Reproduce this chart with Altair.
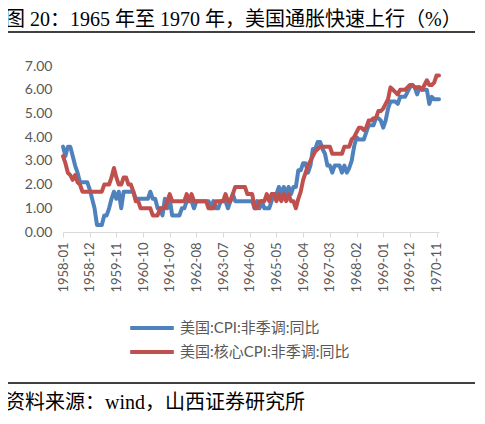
import pandas as pd
import altair as alt

title = "图 20：1965 年至 1970 年，美国通胀快速上行（%）"
source = "资料来源：wind，山西证券研究所"
s_cpi = "美国:CPI:非季调:同比"
s_core = "美国:核心CPI:非季调:同比"

months = pd.period_range("1958-01", "1970-12", freq="M").strftime("%Y-%m").tolist()

# CPI yoy (1958-01 .. 1970-12)
cpi = [
    3.6, 3.2, 3.6, 3.6, 3.2, 2.8, 2.5, 2.1, 2.1, 2.1, 2.1, 1.8,
    1.4, 1.0, 0.3, 0.3, 0.3, 0.7, 0.7, 1.0, 1.4, 1.7, 1.4, 1.7,
    1.0, 1.7, 1.7, 1.7, 1.7, 1.7, 1.4, 1.4, 1.4, 1.4, 1.4, 1.4,
    1.7, 1.4, 1.4, 1.0, 1.0, 0.7, 1.4, 1.0, 1.4, 0.7, 0.7, 0.7,
    0.7, 1.0, 1.0, 1.3, 1.3, 1.3, 1.0, 1.3, 1.3, 1.3, 1.3, 1.3,
    1.3, 1.0, 1.3, 1.0, 1.0, 1.3, 1.3, 1.3, 1.0, 1.3, 1.6, 1.3,
    1.3, 1.3, 1.3, 1.3, 1.3, 1.3, 1.3, 1.0, 1.3, 1.0, 1.3, 1.0,
    1.0, 1.0, 1.3, 1.6, 1.6, 1.9, 1.6, 1.9, 1.6, 1.9, 1.6, 1.9,
    1.9, 2.6, 2.6, 2.9, 2.9, 2.5, 2.8, 3.5, 3.5, 3.8, 3.8, 3.5,
    3.3, 2.8, 2.8, 2.5, 2.8, 2.8, 2.8, 2.5, 2.8, 2.5, 2.7, 3.0,
    3.6, 4.0, 3.9, 3.9, 3.9, 4.2, 4.5, 4.5, 4.5, 4.8, 4.8, 4.7,
    4.4, 4.7, 5.2, 5.5, 5.5, 5.5, 5.4, 5.7, 5.7, 5.7, 5.9, 6.1,
    6.2, 6.1, 5.8, 6.1, 6.0, 6.0, 6.0, 5.4, 5.7, 5.6, 5.6, 5.6,
]

# core CPI yoy
core = [
    3.2, 2.9, 2.5, 2.4, 2.2, 2.4, 2.1, 2.0, 1.7, 1.7, 1.7, 1.7,
    1.7, 1.7, 1.7, 1.7, 1.7, 2.0, 2.0, 2.0, 2.3, 2.7, 2.3, 2.0,
    2.0, 2.3, 2.3, 2.0, 2.0, 1.7, 1.3, 1.3, 1.0, 1.0, 1.0, 1.0,
    1.0, 0.7, 0.7, 0.7, 1.0, 1.0, 1.0, 1.3, 1.6, 1.3, 1.3, 1.3,
    1.3, 1.3, 1.3, 1.6, 1.3, 1.6, 1.3, 1.3, 1.3, 1.3, 1.3, 1.3,
    1.0, 1.0, 1.0, 1.3, 1.3, 1.3, 1.3, 1.6, 1.3, 1.3, 1.6, 1.9,
    1.9, 1.9, 1.9, 1.9, 1.6, 1.6, 1.6, 1.0, 1.0, 1.3, 1.3, 1.3,
    1.6, 1.3, 1.6, 1.6, 1.3, 1.6, 1.3, 1.6, 1.3, 1.6, 1.3, 1.3,
    1.0, 1.4, 1.7, 2.2, 2.5, 2.8, 3.0, 3.2, 3.4, 3.5, 3.6, 3.6,
    3.6, 3.6, 3.6, 3.3, 3.3, 3.3, 3.3, 3.3, 3.6, 3.6, 3.6, 3.9,
    4.0, 4.2, 4.4, 4.4, 4.3, 4.4, 4.7, 4.7, 4.8, 4.8, 5.1, 5.1,
    5.2, 5.4, 5.6, 6.1, 6.0, 5.9, 5.8, 6.0, 6.0, 6.0, 6.1, 6.2,
    6.2, 6.1, 6.1, 6.1, 6.0, 6.2, 6.4, 6.2, 6.2, 6.3, 6.6, 6.6,
]

tick_idx = list(range(0, len(months), 11))
y_ticks = [0, 1, 2, 3, 4, 5, 6, 7]

n = len(months)
df = pd.DataFrame({
    "i": list(range(n)) * 2,
    "month": months * 2,
    "value": cpi + core,
    "series": [s_cpi] * n + [s_core] * n,
})

label_expr = "[" + ",".join(f"'{m}'" for m in months) + "][datum.value]"
latin_cjk = "Lato, Noto Sans CJK SC"
serif_cjk = "Liberation Serif, Noto Sans CJK SC"
gray = "#595959"

x_enc = alt.X(
    "i:Q",
    scale=alt.Scale(domain=[0, n - 1], nice=False, zero=False),
    axis=alt.Axis(
        values=tick_idx, labelExpr=label_expr, labelAngle=270,
        labelFontSize=13, labelColor=gray, labelFont="Lato", labelPadding=5,
        domainColor="#D9D9D9", tickColor="#D9D9D9", tickSize=5,
        grid=False, title=None,
    ),
)
y_enc = alt.Y(
    "value:Q",
    scale=alt.Scale(domain=[0, 7], nice=False),
    axis=alt.Axis(
        values=y_ticks, format=".2f", labelFontSize=14, labelColor=gray,
        labelFont="Lato", labelPadding=11, domain=False, ticks=False,
        tickSize=0, grid=False, title=None,
    ),
)
color_enc = alt.Color(
    "series:N",
    scale=alt.Scale(domain=[s_cpi, s_core], range=["#4F81BD", "#C0504D"]),
    legend=alt.Legend(
        orient="none", legendX=65, legendY=254, direction="vertical",
        title=None, symbolType="stroke", symbolSize=1900,
        symbolStrokeWidth=4, labelFont=latin_cjk, labelFontSize=15,
        labelColor=gray, labelLimit=400, clipHeight=16, rowPadding=8,
        labelOffset=4,
    ),
)


def series_line(name):
    return (
        alt.Chart(df)
        .transform_filter(alt.datum.series == name)
        .mark_line(strokeWidth=4, strokeJoin="round", strokeCap="round")
        .encode(x=x_enc, y=y_enc, color=color_enc)
    )


one = pd.DataFrame({"t": [title], "s": [source]})

title_text = alt.Chart(one).mark_text(
    align="left", baseline="middle", fontSize=20, font=serif_cjk, color="black"
).encode(x=alt.value(-58), y=alt.value(-46), text="t:N")

source_text = alt.Chart(one).mark_text(
    align="left", baseline="middle", fontSize=20, font=serif_cjk, color="black"
).encode(x=alt.value(-58), y=alt.value(337), text="s:N")

top_rule = alt.Chart(one).mark_rule(color="black", strokeWidth=1.5).encode(
    x=alt.value(-58), x2=alt.value(412), y=alt.value(-34)
)
bottom_rule = alt.Chart(one).mark_rule(color="black", strokeWidth=1.5).encode(
    x=alt.value(-58), x2=alt.value(412), y=alt.value(317)
)

chart = (
    alt.layer(
        series_line(s_cpi), series_line(s_core),
        title_text, top_rule, bottom_rule, source_text,
    )
    .properties(
        width=376, height=166,
        padding={"left": 55, "top": 58, "right": 38, "bottom": 184},
        autosize=alt.AutoSizeParams(type="none"),
    )
    .configure_view(strokeWidth=0)
)

chart.save("out.html", embed_options={"renderer": "svg", "actions": False})
